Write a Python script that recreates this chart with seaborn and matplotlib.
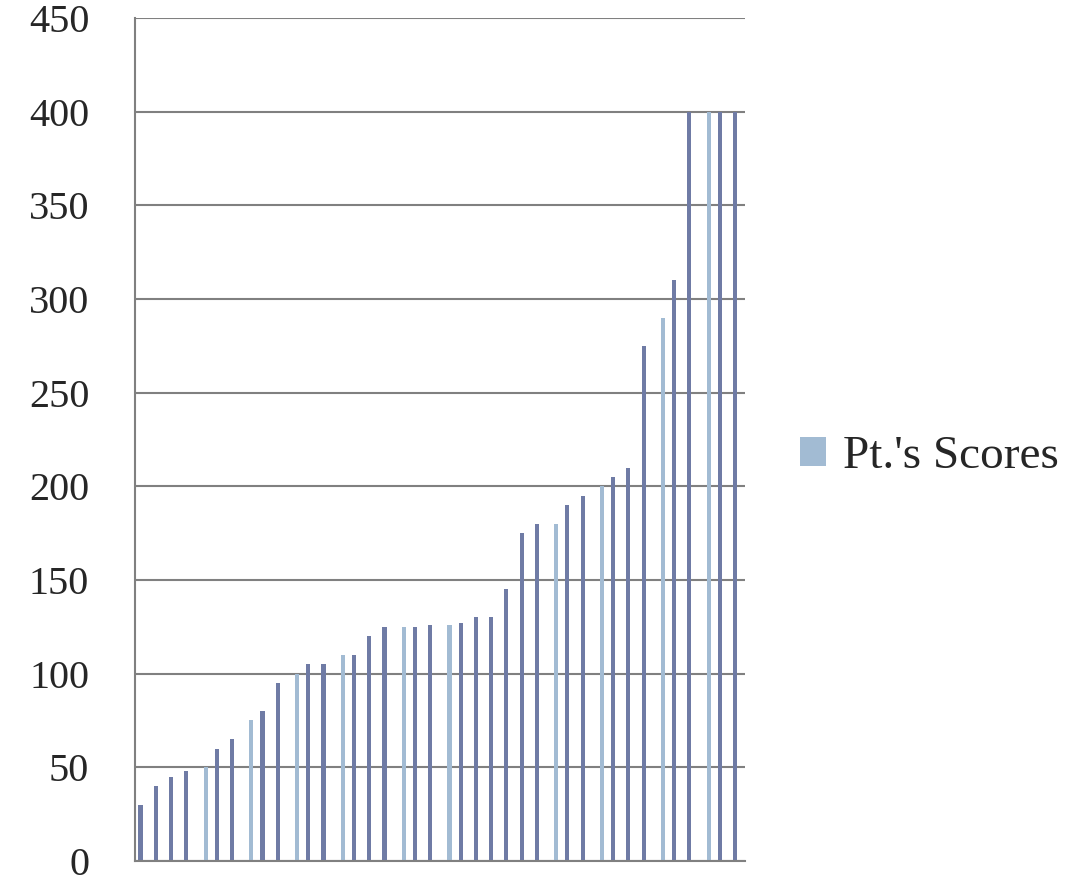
import numpy as np
import pandas as pd
import matplotlib
matplotlib.use("Agg")
import matplotlib.pyplot as plt
import seaborn as sns
from matplotlib.patches import Patch

# Patient scores, sorted ascending (one bar per case)
case_ids = list(range(1, 41))
scores = [30, 40, 45, 48, 50, 60, 65, 75, 80, 95,
          100, 105, 105, 110, 110, 120, 125, 125, 125, 126,
          126, 127, 130, 130, 145, 175, 180, 180, 190, 195,
          200, 205, 210, 275, 290, 310, 400, 400, 400, 400]
# D = dark series (no legend entry), L = "Pt.'s Scores"
groups = ['D', 'D', 'D', 'D', 'L', 'D', 'D', 'L', 'D', 'D',
          'L', 'D', 'D', 'L', 'D', 'D', 'D', 'L', 'D', 'D',
          'L', 'D', 'D', 'D', 'D', 'D', 'D', 'L', 'D', 'D',
          'L', 'D', 'D', 'D', 'L', 'D', 'D', 'L', 'D', 'D']
y_ticks = [0, 50, 100, 150, 200, 250, 300, 350, 400, 450]
legend_label = "Pt.'s Scores"

df = pd.DataFrame({'case': case_ids, 'score': scores, 'group': groups})

dark = '#6F7BA5'
light = '#A2BBD3'
grid_c = '#808080'

sns.set_theme(style="white")
plt.rcParams['font.family'] = ['Liberation Serif', 'DejaVu Serif']

fig = plt.figure(figsize=(10.67, 8.75), dpi=100)
ax = fig.add_axes([0.1265, 0.016, 0.5715, 0.9635])

sns.barplot(data=df, x='case', y='score', hue='group', hue_order=['D', 'L'],
            palette={'D': dark, 'L': light}, width=0.54, dodge=True,
            saturation=1, linewidth=0, legend=False, ax=ax)

ax.set_xlim(-0.5, len(case_ids) - 0.5)
ax.set_ylim(0, 450)
ax.set_yticks(y_ticks)
ax.set_yticklabels([str(v) for v in y_ticks], fontsize=29)
ax.set_xticks(np.arange(-0.5, len(case_ids), 1))
ax.set_xticklabels([])
ax.set_xlabel('')
ax.set_ylabel('')

ax.yaxis.grid(True, color=grid_c, linewidth=1.5)
ax.set_axisbelow(True)
ax.tick_params(axis='y', length=11, width=1.5, color=grid_c, pad=22)
ax.tick_params(axis='x', length=12, width=1.5, color=grid_c, direction='out')
for side in ['top', 'right']:
    ax.spines[side].set_visible(False)
for side in ['left', 'bottom']:
    ax.spines[side].set_color(grid_c)
    ax.spines[side].set_linewidth(1.5)

handle = Patch(facecolor=light, edgecolor='none')
fig.legend([handle], [legend_label], loc='center left',
           bbox_to_anchor=(0.728, 0.478), frameon=False, fontsize=34,
           handlelength=0.55, handleheight=0.55, handletextpad=0.35,
           borderpad=0.0)

fig.savefig('out.png', dpi=100)
